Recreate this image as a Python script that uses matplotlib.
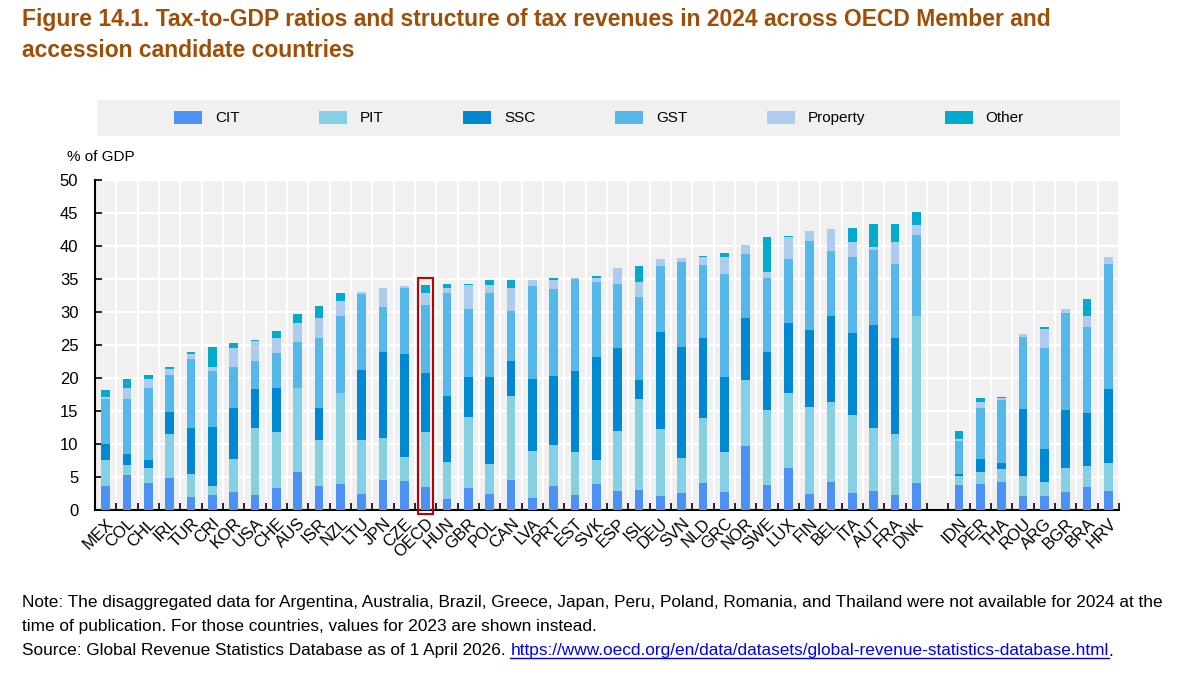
import numpy as np
import matplotlib.pyplot as plt
from matplotlib import font_manager
from matplotlib.patches import Patch, Rectangle
from matplotlib.lines import Line2D

# %%
# data (% of GDP)

countries = [
    "MEX", "COL", "CHL", "IRL", "TUR", "CRI", "KOR", "USA", "CHE", "AUS",
    "ISR", "NZL", "LTU", "JPN", "CZE", "OECD", "HUN", "GBR", "POL", "CAN",
    "LVA", "PRT", "EST", "SVK", "ESP", "ISL", "DEU", "SVN", "NLD", "GRC",
    "NOR", "SWE", "LUX", "FIN", "BEL", "ITA", "AUT", "FRA", "DNK",
    "IDN", "PER", "THA", "ROU", "ARG", "BGR", "BRA", "HRV",
]
n_members = 39  # MEX .. DNK, then a gap, then accession candidates

cit = [3.7, 5.3, 4.1, 4.9, 2.0, 2.2, 2.7, 2.2, 3.4, 5.7,
       3.7, 3.9, 2.5, 4.6, 4.4, 3.5, 1.7, 3.4, 2.5, 4.5,
       1.8, 3.7, 2.3, 3.9, 2.9, 3.1, 2.1, 2.6, 4.1, 2.8,
       9.7, 3.8, 6.4, 2.5, 4.3, 2.6, 2.9, 2.2, 4.1,
       3.8, 4.0, 4.2, 2.1, 2.1, 2.8, 3.5, 2.9]
pit = [3.9, 1.5, 2.3, 6.6, 3.5, 1.5, 5.1, 10.3, 8.4, 12.8,
       6.9, 13.9, 8.1, 6.3, 3.6, 8.3, 5.6, 10.7, 4.5, 12.8,
       7.2, 6.1, 6.5, 3.7, 9.1, 13.7, 10.1, 5.3, 9.9, 6.0,
       10.0, 11.4, 11.3, 13.1, 12.1, 11.8, 9.6, 9.3, 25.3,
       1.3, 1.8, 2.0, 3.0, 2.1, 3.5, 3.2, 4.2]
ssc = [2.4, 1.7, 1.2, 3.4, 7.0, 8.9, 7.7, 5.9, 6.7, 0.0,
       4.9, 0.0, 10.6, 13.1, 15.6, 9.0, 9.9, 6.1, 13.1, 5.3,
       10.8, 10.5, 12.3, 15.6, 12.6, 2.9, 14.8, 16.8, 12.1, 11.3,
       9.4, 8.8, 10.7, 11.7, 13.0, 12.4, 15.6, 14.6, 0.0,
       0.4, 1.9, 0.9, 10.2, 5.1, 8.8, 8.0, 11.2]
gst = [6.8, 8.3, 10.9, 5.6, 10.4, 8.5, 6.1, 4.2, 5.3, 6.9,
       10.5, 11.6, 11.6, 6.8, 10.0, 10.3, 15.7, 10.2, 12.8, 7.6,
       14.2, 13.2, 13.9, 11.3, 9.6, 12.5, 10.0, 12.8, 11.0, 15.7,
       9.7, 11.2, 9.7, 13.4, 9.9, 11.6, 11.3, 11.1, 12.3,
       5.0, 7.7, 9.5, 10.9, 15.3, 14.7, 13.1, 19.0]
prop = [0.3, 1.7, 1.3, 0.9, 0.7, 0.5, 3.0, 3.0, 2.2, 2.9,
        3.1, 2.2, 0.2, 2.8, 0.3, 1.8, 0.7, 3.7, 1.2, 3.4,
        0.8, 1.3, 0.1, 0.6, 2.4, 2.3, 1.0, 0.7, 1.3, 2.6,
        1.4, 0.8, 3.3, 1.5, 3.3, 2.2, 0.5, 3.4, 1.5,
        0.2, 0.9, 0.3, 0.4, 2.8, 0.7, 1.6, 1.1]
other = [1.1, 1.3, 0.6, 0.2, 0.3, 3.1, 0.7, 0.1, 1.1, 1.4,
         1.8, 1.3, 0.0, 0.1, 0.0, 1.2, 0.7, 0.2, 0.7, 1.2,
         0.0, 0.3, 0.0, 0.4, 0.0, 2.4, 0.0, 0.0, 0.1, 0.5,
         0.0, 5.4, 0.1, 0.0, 0.0, 2.1, 3.4, 2.8, 1.9,
         1.3, 0.6, 0.2, 0.0, 0.4, 0.0, 2.6, 0.0]

series = {"CIT": cit, "PIT": pit, "SSC": ssc, "GST": gst, "Property": prop, "Other": other}

colors = {
    "CIT": "#4C92F2",
    "PIT": "#86D0E3",
    "SSC": "#0089D2",
    "GST": "#55B8E8",
    "Property": "#AECDEE",
    "Other": "#00ABCD",
}

title = ("Figure 14.1. Tax-to-GDP ratios and structure of tax revenues in 2024 across OECD Member and\n"
         "accession candidate countries")
note1 = ("Note: The disaggregated data for Argentina, Australia, Brazil, Greece, Japan, Peru, Poland, "
         "Romania, and Thailand were not available for 2024 at the")
note2 = "time of publication. For those countries, values for 2023 are shown instead."
source = "Source: Global Revenue Statistics Database as of 1 April 2026. "
url = "https://www.oecd.org/en/data/datasets/global-revenue-statistics-database.html"

# %%

names = {f.name for f in font_manager.fontManager.ttflist}
narrow = "Liberation Sans Narrow" if "Liberation Sans Narrow" in names else "Liberation Sans"
regular = "Liberation Sans"
plt.rcParams["font.family"] = [narrow, "DejaVu Sans"]

W, H = 1203, 678
fig = plt.figure(figsize=(W / 100, H / 100), dpi=100)
ax = fig.add_axes([95 / W, 1 - 510 / H, (1119 - 95) / W, (510 - 180) / H])

idx = np.arange(len(countries))
xpos = idx + (idx >= n_members)

bottom = np.zeros(len(countries))
for name, vals in series.items():
    vals = np.array(vals)
    ax.bar(xpos, vals, bottom=bottom, width=0.4, color=colors[name], edgecolor="none", zorder=3)
    bottom += vals

ax.set_facecolor("#F0F0F0")
ax.set_xlim(-0.5, xpos[-1] + 0.5)
ax.set_ylim(0, 50)
ax.set_yticks(np.arange(0, 51, 5))

ax.set_xticks(xpos)
ax.set_xticklabels(countries, rotation=45, ha="right", va="top", rotation_mode="anchor", fontsize=12)
ax.set_xticks(np.arange(-0.5, xpos[-1] + 1, 1), minor=True)
ax.tick_params(axis="x", which="major", length=0, pad=4)
ax.tick_params(axis="x", which="minor", direction="in", length=5, width=1.2)
ax.tick_params(axis="y", direction="in", length=5, width=1.2, labelsize=12, pad=12)

ax.grid(axis="y", color="white", linewidth=1.5, zorder=0)
ax.grid(axis="x", which="minor", color="white", linewidth=1.5, zorder=0)
ax.set_axisbelow(True)
for s in ["top", "right"]:
    ax.spines[s].set_visible(False)
for s in ["left", "bottom"]:
    ax.spines[s].set_linewidth(1.5)

# highlight the OECD average
oecd_x = xpos[countries.index("OECD")]
ax.add_patch(Rectangle((oecd_x - 0.35, -0.6), 0.7, 35.8, fill=False,
                       edgecolor="#C00000", linewidth=1.5, clip_on=False, zorder=5))

fig.text(67 / W, 1 - 157 / H, "% of GDP", fontsize=11, va="center", ha="left")

# title
fig.text(22 / W, 1 - 8 / H, title, fontsize=16.5, fontweight="bold", color="#9E4F07",
         va="top", ha="left", linespacing=1.45)

# legend band
fig.add_artist(Rectangle((97 / W, 1 - 136 / H), (1120 - 97) / W, 36 / H,
                         transform=fig.transFigure, facecolor="#F0F0F0", edgecolor="none"))
handles = [Patch(facecolor=colors[k], edgecolor="none") for k in series]
fig.legend(handles, list(series), ncol=6, loc="center", bbox_to_anchor=(599 / W, 1 - 118 / H),
           frameon=False, fontsize=11, handlelength=1.83, handleheight=0.92,
           handletextpad=0.85, columnspacing=5.2)

# notes
fs_note = 12.4
fig.text(22 / W, 1 - 602 / H, note1, fontsize=fs_note, family=regular, va="center")
fig.text(22 / W, 1 - 626 / H, note2, fontsize=fs_note, family=regular, va="center")
t_src = fig.text(22 / W, 1 - 651 / H, source, fontsize=fs_note, family=regular, va="center")

renderer = fig.canvas.get_renderer()
bb = t_src.get_window_extent(renderer)
t_url = fig.text(bb.x1 / W, 1 - 651 / H, url, fontsize=fs_note, family=regular,
                 va="center", color="#0000EE")
bb2 = t_url.get_window_extent(renderer)
fig.text(bb2.x1 / W, 1 - 651 / H, ".", fontsize=fs_note, family=regular, va="center")
fig.add_artist(Line2D([bb2.x0 / W, bb2.x1 / W], [(bb2.y0 + 1) / H] * 2,
                      transform=fig.transFigure, color="#0000EE", linewidth=1))

plt.savefig("out.png", dpi=100)
plt.close()
